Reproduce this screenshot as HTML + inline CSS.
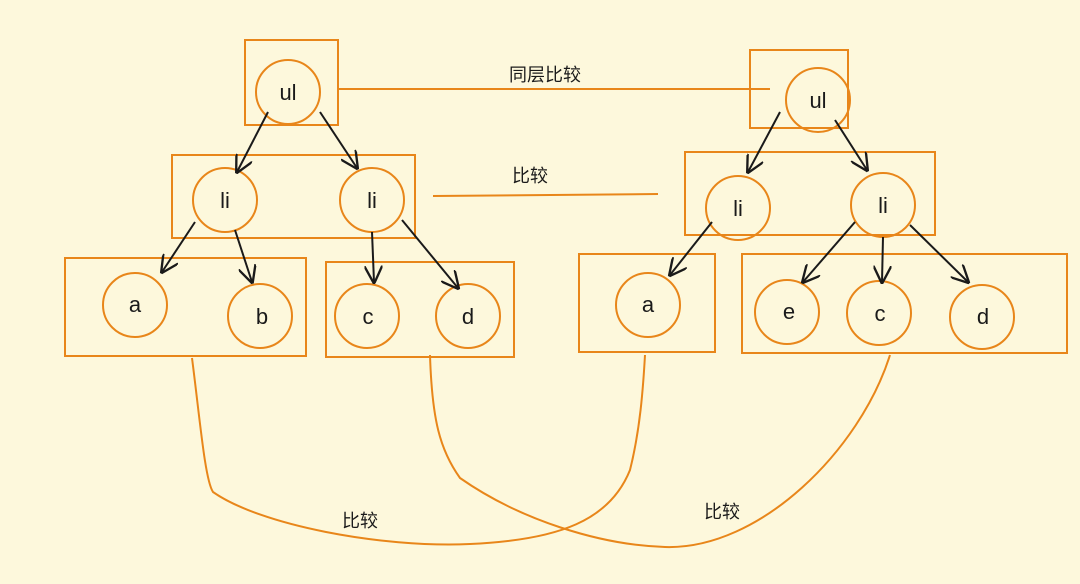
<!DOCTYPE html>
<html><head><meta charset="utf-8"><style>
html,body{margin:0;padding:0;background:#fdf8dc;}
svg{display:block}
text{font-family:"Liberation Sans","Noto Sans CJK SC",sans-serif;fill:#1a1a1a}
</style></head><body>
<svg width="1080" height="584" viewBox="0 0 1080 584" xmlns="http://www.w3.org/2000/svg">
<defs>
<marker id="ar" viewBox="0 0 10 10" refX="9" refY="5" markerWidth="9" markerHeight="9" orient="auto-start-reverse">
<path d="M0,0 L10,5 L0,10" fill="none" stroke="#1a1a1a" stroke-width="1.3"/>
</marker>
</defs>
<rect width="1080" height="584" fill="#fdf8dc"/>
<g fill="none" stroke="#e8861a" stroke-width="2">
<rect x="245" y="40" width="93" height="85"/>
<rect x="750" y="50" width="98" height="78"/>
<rect x="172" y="155" width="243" height="83"/>
<rect x="685" y="152" width="250" height="83"/>
<rect x="65" y="258" width="241" height="98"/>
<rect x="326" y="262" width="188" height="95"/>
<rect x="579" y="254" width="136" height="98"/>
<rect x="742" y="254" width="325" height="99"/>
<line x1="338" y1="89" x2="770" y2="89"/>
<line x1="433" y1="196" x2="658" y2="194"/>
<circle cx="288" cy="92" r="32"/>
<circle cx="818" cy="100" r="32"/>
<circle cx="225" cy="200" r="32"/>
<circle cx="372" cy="200" r="32"/>
<circle cx="738" cy="208" r="32"/>
<circle cx="883" cy="205" r="32"/>
<circle cx="135" cy="305" r="32"/>
<circle cx="260" cy="316" r="32"/>
<circle cx="367" cy="316" r="32"/>
<circle cx="468" cy="316" r="32"/>
<circle cx="648" cy="305" r="32"/>
<circle cx="787" cy="312" r="32"/>
<circle cx="879" cy="313" r="32"/>
<circle cx="982" cy="317" r="32"/>
<path d="M192,358 C200,420 205,480 213,492 C260,525 380,548 470,544 C560,540 610,520 630,470 C640,430 643,390 645,355"/>
<path d="M430,355 C432,420 440,450 460,478 C520,520 600,545 665,547 C760,550 860,450 890,355"/>
</g>
<g stroke="#1a1a1a" stroke-width="2" marker-end="url(#ar)">
<line x1="268" y1="112" x2="237" y2="172"/>
<line x1="320" y1="112" x2="357" y2="168"/>
<line x1="195" y1="222" x2="162" y2="272"/>
<line x1="235" y1="230" x2="252" y2="282"/>
<line x1="372" y1="232" x2="374" y2="282"/>
<line x1="402" y1="220" x2="458" y2="288"/>
<line x1="780" y1="112" x2="748" y2="172"/>
<line x1="835" y1="120" x2="867" y2="170"/>
<line x1="712" y1="222" x2="670" y2="275"/>
<line x1="855" y1="222" x2="803" y2="282"/>
<line x1="883" y1="237" x2="882" y2="282"/>
<line x1="910" y1="225" x2="968" y2="282"/>
</g>
<g font-size="22" text-anchor="middle">
<text x="288" y="100">ul</text>
<text x="818" y="108">ul</text>
<text x="225" y="208">li</text>
<text x="372" y="208">li</text>
<text x="738" y="216">li</text>
<text x="883" y="213">li</text>
<text x="135" y="312">a</text>
<text x="262" y="324">b</text>
<text x="368" y="324">c</text>
<text x="468" y="324">d</text>
<text x="648" y="312">a</text>
<text x="789" y="319">e</text>
<text x="880" y="321">c</text>
<text x="983" y="324">d</text>
</g>
<g font-size="18" text-anchor="middle">
<text x="545" y="81">同层比较</text>
<text x="530" y="182">比较</text>
<text x="360" y="527">比较</text>
<text x="722" y="518">比较</text>
</g>
</svg>
</body></html>
